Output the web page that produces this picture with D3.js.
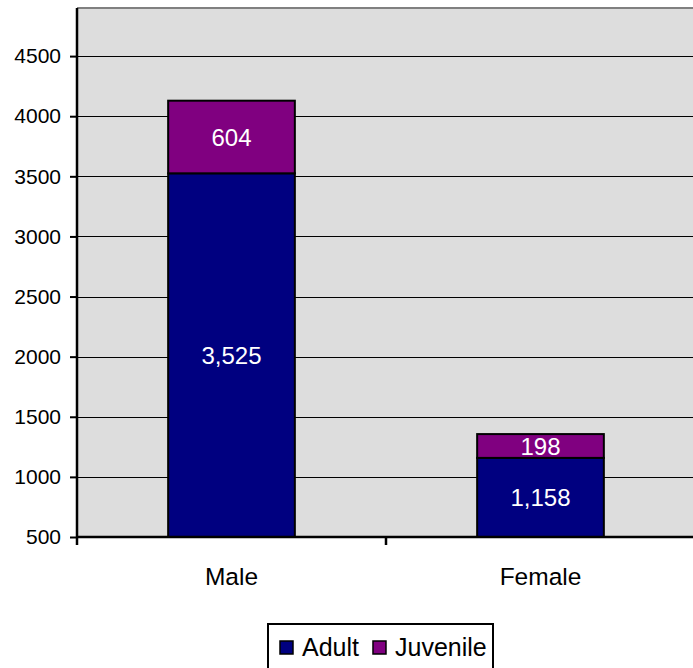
<!DOCTYPE html>
<html>
<head>
    <title>Adult and Juvenile by Sex</title>
    <script src="https://d3js.org/d3.v7.min.js"></script>
    <style>
        body { margin: 0; background: #fff; }
        text { font-family: "Liberation Sans", Arial, sans-serif; }
    </style>
</head>
<body>
    <div id="chart"></div>

    <script>
        // Data
        const categories = ["Male", "Female"];
        const seriesNames = ["Adult", "Juvenile"];
        const adultValues = [3525, 1158];
        const juvenileValues = [604, 198];
        const yTicks = [500, 1000, 1500, 2000, 2500, 3000, 3500, 4000, 4500];

        const colors = { Adult: "#000080", Juvenile: "#800080" };

        const W = 693, H = 668;
        const plot = { left: 77, right: 695, top: 8, bottom: 537 };

        const svg = d3.select("#chart")
            .append("svg")
            .attr("width", W)
            .attr("height", H);

        // rows for d3.stack
        const rows = categories.map((c, i) => ({
            category: c,
            Adult: adultValues[i],
            Juvenile: juvenileValues[i]
        }));

        const x = d3.scaleBand()
            .domain(categories)
            .range([plot.left, plot.right])
            .padding(0);

        const y = d3.scaleLinear()
            .domain([500, 4900])
            .range([plot.bottom, plot.top])
            .clamp(true);

        const barW = x.bandwidth() * 0.41;

        // plot background
        svg.append("rect")
            .attr("x", plot.left)
            .attr("y", plot.top)
            .attr("width", plot.right - plot.left)
            .attr("height", plot.bottom - plot.top)
            .attr("fill", "#dddddd");

        // top border
        svg.append("line")
            .attr("x1", plot.left).attr("x2", plot.right)
            .attr("y1", plot.top).attr("y2", plot.top)
            .attr("stroke", "#808080")
            .attr("stroke-width", 2);

        // gridlines
        svg.append("g")
            .selectAll("line")
            .data(yTicks.filter(t => t > 500))
            .join("line")
            .attr("x1", plot.left).attr("x2", plot.right)
            .attr("y1", d => Math.round(y(d)) + 0.5)
            .attr("y2", d => Math.round(y(d)) + 0.5)
            .attr("stroke", "#000")
            .attr("stroke-width", 1);

        // stacked bars
        const stacked = d3.stack().keys(seriesNames)(rows);

        const layers = svg.append("g")
            .selectAll("g")
            .data(stacked)
            .join("g")
            .attr("fill", d => colors[d.key]);

        layers.selectAll("rect")
            .data(d => d)
            .join("rect")
            .attr("x", d => x(d.data.category) + (x.bandwidth() - barW) / 2)
            .attr("y", d => y(d[1]))
            .attr("width", barW)
            .attr("height", d => y(d[0]) - y(d[1]))
            .attr("stroke", "#000")
            .attr("stroke-width", 2);

        // value labels
        const fmt = d3.format(",");
        layers.selectAll("text")
            .data(d => d.map(s => ({ s, key: d.key })))
            .join("text")
            .attr("x", d => x(d.s.data.category) + x.bandwidth() / 2)
            .attr("y", d => (y(d.s[0]) + y(d.s[1])) / 2)
            .attr("dy", "0.36em")
            .attr("text-anchor", "middle")
            .attr("fill", "#fff")
            .attr("font-size", 24)
            .text(d => fmt(d.s.data[d.key]));

        // y axis
        const yAxis = svg.append("g")
            .attr("transform", `translate(${plot.left},0)`)
            .call(d3.axisLeft(y).tickValues(yTicks).tickSize(7).tickPadding(9).tickFormat(d3.format("d")));
        yAxis.select(".domain")
            .attr("d", `M0,${plot.top}V${plot.bottom}`)
            .attr("stroke", "#000")
            .attr("stroke-width", 2.5);
        yAxis.selectAll(".tick line").attr("stroke-width", 2);
        yAxis.selectAll(".tick text")
            .attr("font-size", 21)
            .attr("fill", "#000")
            .attr("font-family", "Liberation Sans, Arial, sans-serif");

        // x axis
        const xAxis = svg.append("g")
            .attr("transform", `translate(0,${plot.bottom})`)
            .call(d3.axisBottom(x).tickSize(0).tickPadding(31));
        xAxis.select(".domain")
            .attr("d", `M${plot.left},0H${plot.right}`)
            .attr("stroke", "#000")
            .attr("stroke-width", 2.5);
        xAxis.selectAll(".tick text")
            .attr("font-size", 24.5)
            .attr("fill", "#000")
            .attr("font-family", "Liberation Sans, Arial, sans-serif");
        // category boundary ticks
        xAxis.append("g")
            .selectAll("line")
            .data(categories.concat(["end"]))
            .join("line")
            .attr("x1", (d, i) => i < categories.length ? x(d) : x(categories[i - 1]) + x.bandwidth())
            .attr("x2", (d, i) => i < categories.length ? x(d) : x(categories[i - 1]) + x.bandwidth())
            .attr("y1", 0).attr("y2", 8)
            .attr("stroke", "#000")
            .attr("stroke-width", 2.5);

        // legend
        const legend = svg.append("g");
        legend.append("rect")
            .attr("x", 268).attr("y", 624)
            .attr("width", 225).attr("height", 46)
            .attr("fill", "#fff")
            .attr("stroke", "#000")
            .attr("stroke-width", 2);

        let lx = 280;
        seriesNames.forEach(name => {
            legend.append("rect")
                .attr("x", lx).attr("y", 641)
                .attr("width", 13).attr("height", 13)
                .attr("fill", colors[name])
                .attr("stroke", "#000")
                .attr("stroke-width", 1.5);
            const t = legend.append("text")
                .attr("x", lx + 22).attr("y", 656)
                .attr("font-size", 25)
                .attr("fill", "#000")
                .text(name);
            lx += 22 + t.node().getComputedTextLength() + 14;
        });
    </script>
</body>
</html>
